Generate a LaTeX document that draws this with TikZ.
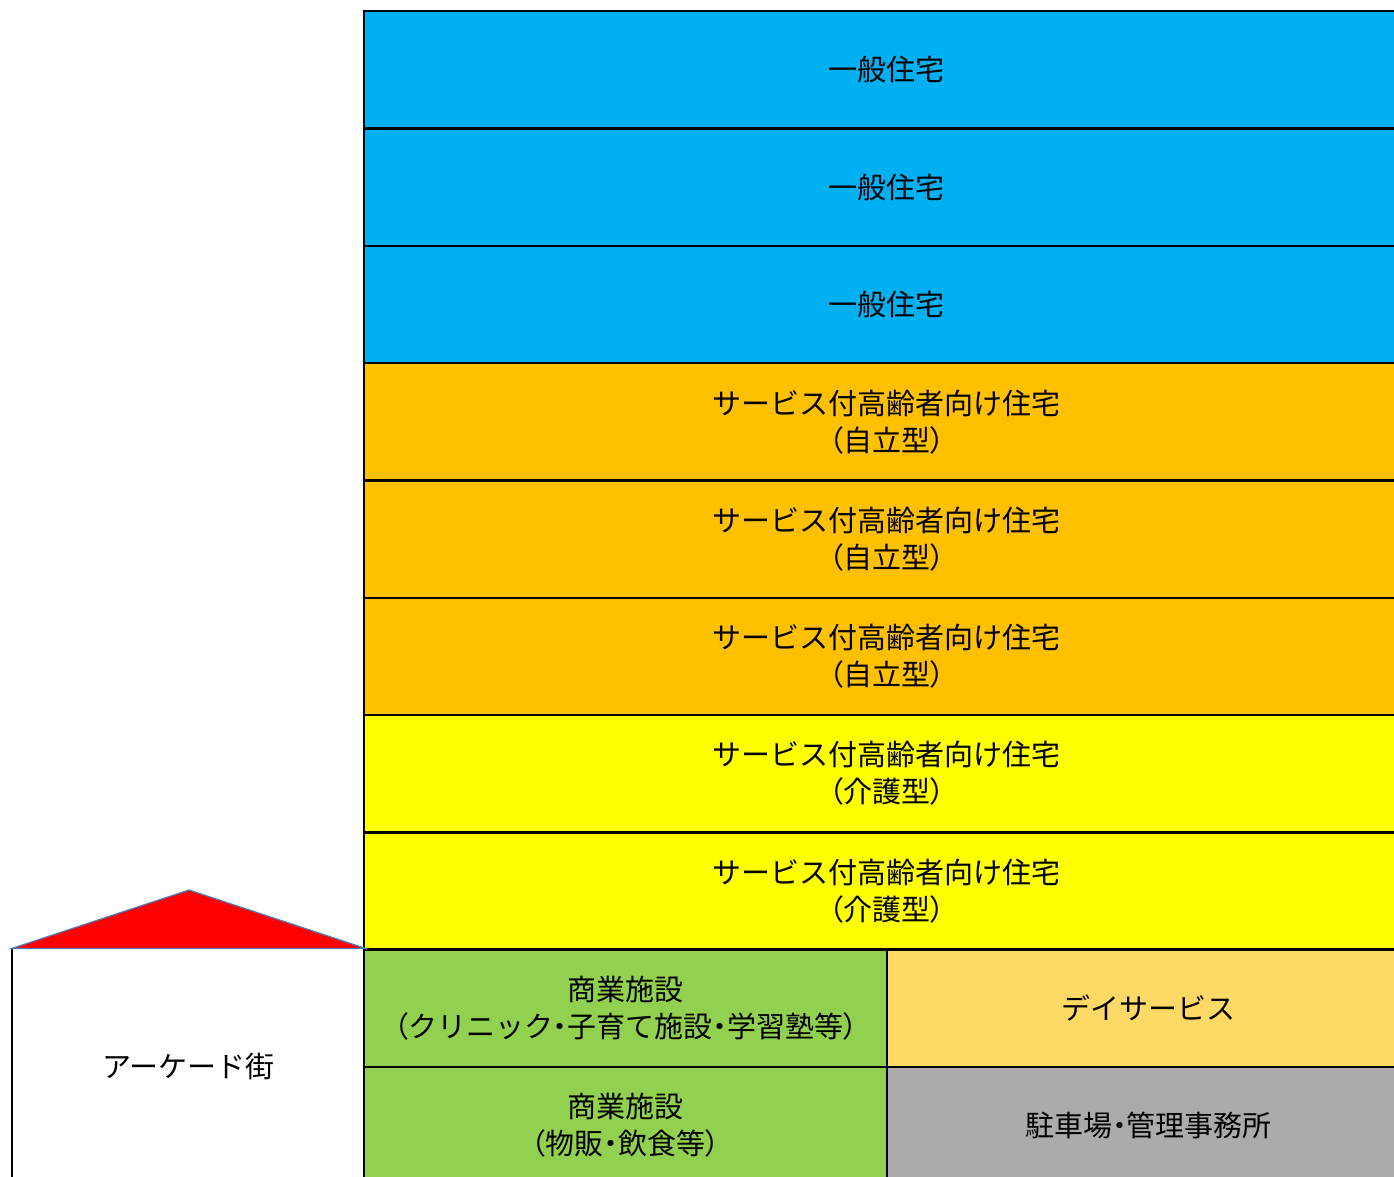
\documentclass[tikz,border=0pt]{standalone}
\usepackage{fontspec}
\setmainfont{Noto Sans CJK JP}
\newfontfamily\ppal{Noto Sans CJK JP}[RawFeature=+palt]
\newcommand\LPar{{\ppal （}}
\newcommand\RPar{{\ppal ）}}
\newcommand\MDot{{\ppal ・}}
\definecolor{cblue}{HTML}{00B0F0}
\definecolor{corange}{HTML}{FFC000}
\definecolor{cyellow}{HTML}{FFFF00}
\definecolor{cgreen}{HTML}{92D050}
\definecolor{clorange}{HTML}{FFD966}
\definecolor{cgray}{HTML}{AEAAAA}
\definecolor{roofedge}{HTML}{4A7EBB}
\definecolor{roofred}{HTML}{FF0000}
\tikzset{
  cell/.style={draw=black, line width=1.2pt, minimum height=58.65pt, inner sep=0pt,
    anchor=north west, align=center, font=\fontsize{14.5pt}{18.5pt}\selectfont},
  floorbox/.style={cell, minimum width=522.5pt},
  halfbox/.style={cell, minimum width=261.5pt},
  roof/.style={fill=roofred, draw=roofedge, line width=0.6pt, line join=miter}
}
\begin{document}
\begin{tikzpicture}[x=0.5pt,y=-0.5pt]
\useasboundingbox (0,0) rectangle (1394,1177);
\clip (0,0) rectangle (1394,1177);
\node[floorbox, fill=cblue] (r1) at (363,10) {一般住宅};
\node[floorbox, fill=cblue] (r2) at (363,127.3) {一般住宅};
\node[floorbox, fill=cblue] (r3) at (363,244.6) {一般住宅};
\node[floorbox, fill=corange] (r4) at (363,361.9) {サービス付高齢者向け住宅\\\LPar 自立型\RPar};
\node[floorbox, fill=corange] (r5) at (363,479.2) {サービス付高齢者向け住宅\\\LPar 自立型\RPar};
\node[floorbox, fill=corange] (r6) at (363,596.5) {サービス付高齢者向け住宅\\\LPar 自立型\RPar};
\node[floorbox, fill=cyellow] (r7) at (363,713.8) {サービス付高齢者向け住宅\\\LPar 介護型\RPar};
\node[floorbox, fill=cyellow] (r8) at (363,831.1) {サービス付高齢者向け住宅\\\LPar 介護型\RPar};
\node[halfbox, fill=cgreen] (c1) at (363,948.4) {商業施設\\\LPar クリニック\MDot 子育て施設\MDot 学習塾等\RPar};
\node[halfbox, fill=clorange] (d1) at (886,948.4) {デイサービス};
\node[halfbox, fill=cgreen] (c2) at (363,1065.7) {商業施設\\\LPar 物販\MDot 飲食等\RPar};
\node[halfbox, fill=cgray] (d2) at (886,1065.7) {駐車場\MDot 管理事務所};
\node[cell, draw=none, minimum width=175.5pt, minimum height=117.3pt] (arc) at (12,948.4) {アーケード街};
\draw[black, line width=1.2pt] (arc.north west) -- (arc.south west);
\coordinate (apex) at (189,890);
\draw[roof] (arc.north west) -- (apex) -- (arc.north east) -- cycle;
\end{tikzpicture}
\end{document}
